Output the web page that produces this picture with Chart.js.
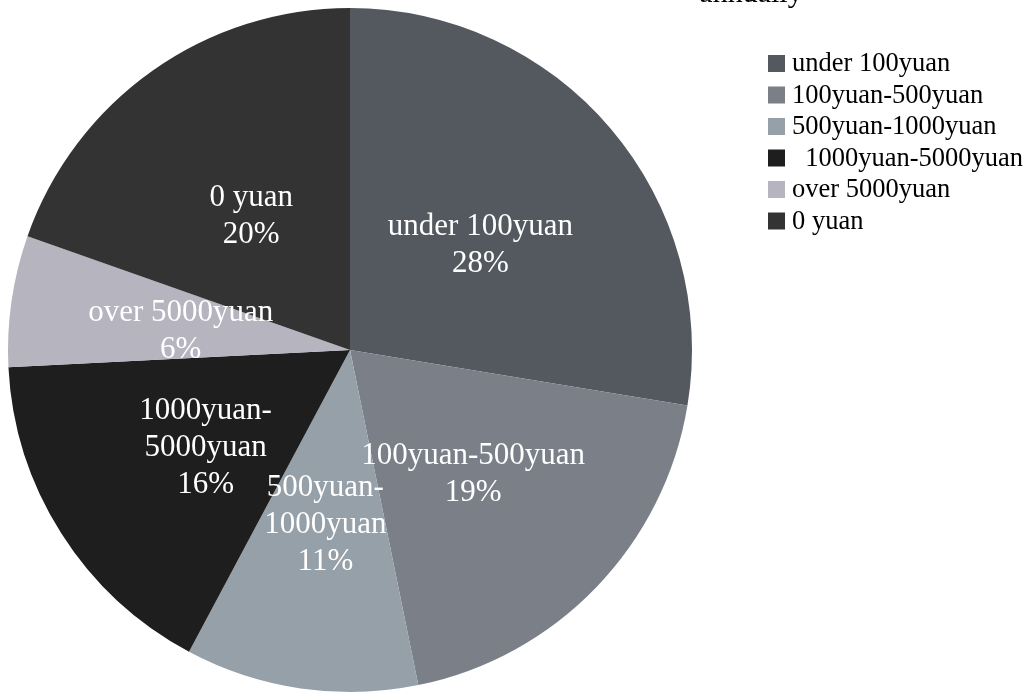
<!DOCTYPE html>
<html>
<head>
<meta charset="utf-8">
<script src="https://cdn.jsdelivr.net/npm/chart.js@4"></script>
<style>
  html, body { margin: 0; padding: 0; background: #fff; }
  #wrap { width: 1034px; height: 697px; }
</style>
</head>
<body>
<div id="wrap"><canvas id="pieChart"></canvas></div>
<script>
// categories as shown in the legend
const categories = ['under 100yuan', '100yuan-500yuan', '500yuan-1000yuan', '  1000yuan-5000yuan', 'over 5000yuan', '0 yuan'];
// same categories, wrapped the way they appear on the slices
const sliceNames = ['under 100yuan', '100yuan-500yuan', '500yuan-\n1000yuan', '1000yuan-\n5000yuan', 'over 5000yuan', '0 yuan'];
// share of respondents (%)
const shares = [27.6, 19.2, 11.0, 16.4, 6.2, 19.6];
const sliceColors = ['#54585f', '#7a7f88', '#96a0a8', '#1e1e1e', '#b5b4bf', '#333333'];
const titleText = 'annually';

const serif = '"Liberation Serif", "Times New Roman", serif';

// white labels in the middle of each slice
const sliceLabels = {
  id: 'sliceLabels',
  afterDatasetsDraw(chart) {
    const ctx = chart.ctx;
    const meta = chart.getDatasetMeta(0);
    const total = shares.reduce((a, b) => a + b, 0);
    ctx.save();
    ctx.fillStyle = '#ffffff';
    ctx.font = '31px ' + serif;
    ctx.textAlign = 'center';
    ctx.textBaseline = 'middle';
    meta.data.forEach((arc, i) => {
      const pos = arc.tooltipPosition();
      const lines = sliceNames[i].split('\n');
      lines.push(Math.round(shares[i] / total * 100) + '%');
      const lh = 37;
      const y0 = pos.y - (lines.length - 1) * lh / 2 + 6;
      lines.forEach((t, j) => ctx.fillText(t, pos.x, y0 + j * lh));
    });
    ctx.restore();
  }
};

// legend on the right, plus the cut off title line
const sideLegend = {
  id: 'sideLegend',
  afterDraw(chart) {
    const ctx = chart.ctx;
    const colors = chart.data.datasets[0].backgroundColor;
    ctx.save();
    ctx.fillStyle = '#000';
    ctx.font = '30px ' + serif;
    ctx.textAlign = 'center';
    ctx.textBaseline = 'alphabetic';
    ctx.fillText(titleText, 751, 2);

    ctx.font = '26.5px ' + serif;
    ctx.textAlign = 'left';
    ctx.textBaseline = 'middle';
    chart.data.labels.forEach((lab, i) => {
      const cy = 63.5 + i * 31.5;
      ctx.fillStyle = colors[i];
      ctx.fillRect(768, cy - 8.5, 17, 17);
      ctx.fillStyle = '#000';
      ctx.fillText(lab, 792, cy + 1);
    });
    ctx.restore();
  }
};

const ctx = document.getElementById('pieChart').getContext('2d');

window.pieChart = new Chart(ctx, {
  type: 'pie',
  data: {
    labels: categories,
    datasets: [
      {
        data: shares,
        backgroundColor: sliceColors,
        borderWidth: 0
      }
    ]
  },
  options: {
    responsive: true,
    maintainAspectRatio: false,
    animation: false,
    layout: { padding: { left: 8, top: 8, right: 342, bottom: 5 } },
    plugins: {
      legend: { display: false },
      tooltip: { enabled: false }
    }
  },
  plugins: [sliceLabels, sideLegend]
});
</script>
</body>
</html>
